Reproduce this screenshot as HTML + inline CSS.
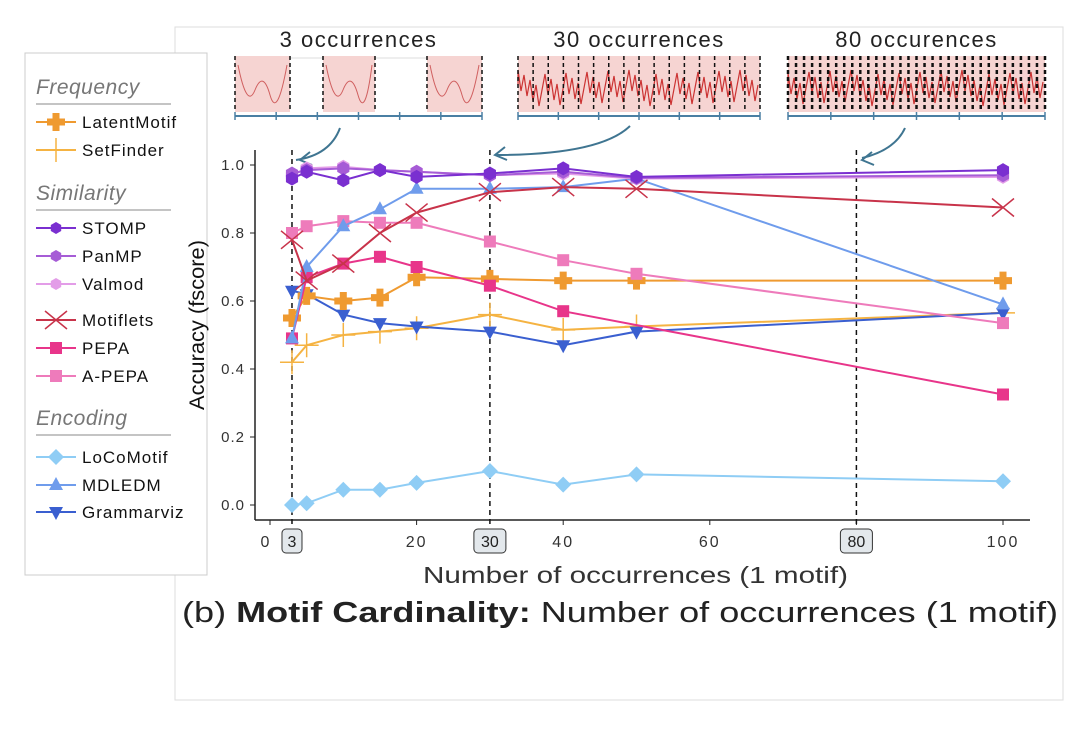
<!DOCTYPE html>
<html><head><meta charset="utf-8"><style>
body{margin:0;background:#fff;width:1084px;height:746px;overflow:hidden;font-family:"Liberation Sans",sans-serif}
svg{position:absolute;left:0;top:0}
</style></head><body>
<svg id="chart" width="1084" height="746">
<rect x="175" y="27" width="888" height="673" fill="none" stroke="#ddd"/>
<rect x="25" y="53" width="182" height="522" fill="#fff" stroke="#ccc"/>
<g id="insets"></g>
<g id="plot"></g>
<g id="legend"></g>
<text x="204" y="325" transform="rotate(-90 204 325)" font-size="21" fill="#111" text-anchor="middle" textLength="170" lengthAdjust="spacingAndGlyphs">Accuracy (fscore)</text>
<text x="423" y="583" font-size="23" fill="#333" textLength="425" lengthAdjust="spacingAndGlyphs">Number of occurrences (1 motif)</text>
<text x="182" y="622" font-size="29" fill="#222" textLength="876" lengthAdjust="spacingAndGlyphs">(b) <tspan font-weight="bold">Motif Cardinality:</tspan> Number of occurrences (1 motif)</text>
</svg>
<script>
const xs=[3,5,10,15,20,30,40,50,100];
const stomp=[0.96,0.98,0.955,0.985,0.965,0.975,0.99,0.965,0.985];
const panmp=[0.975,0.985,0.99,0.985,0.98,0.97,0.98,0.962,0.97];
const valmod=[0.97,0.99,0.995,0.985,0.98,0.97,0.975,0.96,0.965];
const motiflets=[0.78,0.66,0.71,0.80,0.86,0.92,0.935,0.93,0.875];
const pepaX=[3,5,10,15,20,30,40,100];
const pepa=[0.49,0.67,0.71,0.73,0.70,0.645,0.57,0.325];
const apepa=[0.80,0.82,0.835,0.83,0.83,0.775,0.72,0.68,0.535];
const latent=[0.55,0.615,0.60,0.61,0.67,0.665,0.66,0.66,0.66];
const setfinder=[0.42,0.47,0.50,0.51,0.52,0.56,0.515,0.525,0.565];
const loco=[0.0,0.005,0.045,0.045,0.065,0.10,0.06,0.09,0.07];
const mdledm=[0.49,0.70,0.82,0.87,0.93,0.93,0.935,0.96,0.59];
const grammar=[0.63,0.62,0.56,0.535,0.525,0.51,0.47,0.51,0.565];
const xTicks=[0,20,40,60,80,100];
const yTicks=[0,0.2,0.4,0.6,0.8,1.0];
const markers=[3,30,80];

const NS="http://www.w3.org/2000/svg";
const X=v=>270+v*7.33, Y=v=>505-v*340;
function el(t,a,p){const e=document.createElementNS(NS,t);for(const k in a)e.setAttribute(k,a[k]);p.appendChild(e);return e;}
const plot=document.getElementById('plot');
const ax=el('line',{x1:255,y1:150,x2:255,y2:520,stroke:'#222','stroke-width':1.5},plot);


const bx=el('line',{x1:255,y1:520,x2:1030,y2:520,stroke:'#222','stroke-width':1.5},plot);


yTicks.forEach(v=>{
 el('line',{x1:250,x2:255,y1:Y(v),y2:Y(v),stroke:'#222'},plot);
 const t=el('text',{x:245,y:Y(v)+5,'font-size':15,fill:'#333','text-anchor':'end','letter-spacing':'1'},plot);
 t.textContent=v.toFixed(1);
 
 
});
xTicks.forEach(v=>{
 el('line',{x1:X(v),x2:X(v),y1:520,y2:525,stroke:'#222'},plot);
 if(v===80)return;
 const t=el('text',{x:X(v)+(v===0?-4:0),y:547,'font-size':16,fill:'#333','text-anchor':'middle','letter-spacing':'2'},plot);
 t.textContent=v;
 
 
});
markers.forEach(v=>{
 const l=el('line',{x1:X(v),x2:X(v),y1:150,y2:525,stroke:'#111','stroke-width':1.5,'stroke-dasharray':'5,4'},plot);
 
 
 const w=v<10?20:32;
 el('rect',{x:X(v)-w/2,y:529,width:w,height:24,rx:4,fill:'#e3e8ec',stroke:'#333'},plot);
 const t=el('text',{x:X(v),y:547,'font-size':16,fill:'#222','text-anchor':'middle'},plot);
 t.textContent=v;
 
 
});
function marker(type,x,y,c,g,s){
 s=s||7;
 if(type==='hex'){let p=[];for(let i=0;i<6;i++){const a=Math.PI/3*i+Math.PI/6;p.push((x+s*Math.cos(a))+','+(y+s*Math.sin(a)));}el('polygon',{points:p.join(' '),fill:c},g);}
 else if(type==='sq')el('rect',{x:x-6,y:y-6,width:12,height:12,fill:c},g);
 else if(type==='x'){el('path',{d:`M${x-11} ${y-9}L${x+11} ${y+9}M${x-11} ${y+9}L${x+11} ${y-9}`,stroke:c,'stroke-width':1.5,fill:'none'},g);}
 else if(type==='plus'){el('path',{d:`M${x-9} ${y}H${x+9}M${x} ${y-9}V${y+9}`,stroke:c,'stroke-width':7,fill:'none'},g);}
 else if(type==='thin'){el('path',{d:`M${x-12} ${y}H${x+12}M${x} ${y-12}V${y+12}`,stroke:c,'stroke-width':1.5,fill:'none'},g);}
 else if(type==='dia')el('polygon',{points:`${x},${y-8} ${x+8},${y} ${x},${y+8} ${x-8},${y}`,fill:c},g);
 else if(type==='tri')el('polygon',{points:`${x},${y-8} ${x+7},${y+5} ${x-7},${y+5}`,fill:c},g);
 else if(type==='tdn')el('polygon',{points:`${x},${y+8} ${x+7},${y-5} ${x-7},${y-5}`,fill:c},g);
}
const series=[
 ['locomotif',xs,loco,'#8fcdf5','dia'],
 ['setfinder',xs,setfinder,'#f5b342','thin'],
 ['grammarviz',xs,grammar,'#3a5fd0','tdn'],
 ['latentmotif',xs,latent,'#ef9a30','plus'],
 ['pepa',pepaX,pepa,'#e8358a','sq'],
 ['a-pepa',xs,apepa,'#ee7bbb','sq'],
 ['mdledm',xs,mdledm,'#6f9cec','tri'],
 ['motiflets',xs,motiflets,'#c8334a','x'],
 ['valmod',xs,valmod,'#e39de8','hex'],
 ['panmp',xs,panmp,'#a65cd6','hex'],
 ['stomp',xs,stomp,'#7a2fd0','hex']
];
series.forEach(([n,xx,yy,c,m])=>{
 const g=el('g',{},plot);
 
 
 el('polyline',{points:xx.map((x,i)=>X(x)+','+Y(yy[i])).join(' '),fill:'none',stroke:c,'stroke-width':2},g);
 xx.forEach((x,i)=>marker(m,X(x),Y(yy[i]),c,g));
});
const lg=document.getElementById('legend');
const items=[['h','Frequency',94],['i','LatentMotif',122,'#ef9a30','plus'],['i','SetFinder',150,'#f5b342','thin'],
['h','Similarity',200],['i','STOMP',228,'#7a2fd0','hex'],['i','PanMP',256,'#a65cd6','hex'],['i','Valmod',284,'#e39de8','hex'],
['i','Motiflets',320,'#c8334a','x'],['i','PEPA',348,'#e8358a','sq'],['i','A-PEPA',376,'#ee7bbb','sq'],
['h','Encoding',425],['i','LoCoMotif',457,'#8fcdf5','dia'],['i','MDLEDM',485,'#6f9cec','tri'],['i','Grammarviz',512,'#3a5fd0','tdn']];
items.forEach(it=>{
 if(it[0]==='h'){
  const t=el('text',{x:36,y:it[2],'font-size':21,'font-style':'italic',fill:'#777','letter-spacing':'0.5'},lg);t.textContent=it[1];
  
  
  el('line',{x1:36,x2:171,y1:it[2]+10,y2:it[2]+10,stroke:'#888'},lg);
 }else{
  const g=el('g',{},lg);
  
  
  el('line',{x1:36,x2:76,y1:it[2],y2:it[2],stroke:it[3],'stroke-width':2},g);
  marker(it[4],56,it[2],it[3],g,6);
  const t=el('text',{x:82,y:it[2]+6,'font-size':17,fill:'#111','letter-spacing':'1'},g);t.textContent=it[1];
 }
});
const ins=document.getElementById('insets');
const panels=[[235,482,'3 occurrences',3],[518,760,'30 occurrences',30],[788,1045,'80 occurences',80]];
panels.forEach(([a,b,title,n])=>{
 const g=el('g',{},ins);
 
 
 const t=el('text',{x:(a+b)/2,y:47,'font-size':22,fill:'#222','text-anchor':'middle','letter-spacing':'1.5'},g);t.textContent=title;
 el('line',{x1:a,x2:b,y1:58,y2:58,stroke:'#ddd'},g);
 if(n===3){
  [[235,290],[323,375],[427,482]].forEach(([p,q])=>{
   el('rect',{x:p,y:56,width:q-p,height:56,fill:'#f6d4d2'},g);
   el('path',{d:`M${p+3} 65 Q${p+12} 110 ${p+20} 90 T${p+35} 95 T${q-3} 65`,stroke:'#d06060',fill:'none'},g);
   [p,q].forEach(x=>el('line',{x1:x,x2:x,y1:56,y2:112,stroke:'#111','stroke-dasharray':'4,3','stroke-width':1.5},g));
  });
 }else{
  const cnt=n===30?16:32;
  el('rect',{x:a,y:56,width:b-a,height:56,fill:'#f6d4d2'},g);
  let d='M'+a+' 85';for(let x=a;x<=b;x+=3)d+=' L'+x+' '+(70+((x*7)%37));
  el('path',{d:d,stroke:'#cc3333',fill:'none','stroke-width':1.2},g);
  for(let i=0;i<=cnt;i++){const x=a+(b-a)*i/cnt;el('line',{x1:x,x2:x,y1:56,y2:112,stroke:'#111','stroke-dasharray':'4,3','stroke-width':n===80?2.5:1.5},g);}
 }
 el('line',{x1:a,x2:b,y1:116,y2:116,stroke:'#4a7fa3','stroke-width':2},g);
 for(let i=0;i<=6;i++){const x=a+(b-a)*i/6;el('line',{x1:x,x2:x,y1:112,y2:120,stroke:'#4a7fa3','stroke-width':1.5},g);}
});
[[340,128,300,160,'M340 128 Q330 155 296 160'],[630,128,495,155,'M630 126 Q600 155 495 155'],[905,128,862,160,'M905 128 Q895 150 862 158']].forEach(r=>{
 const p=el('path',{d:r[4],stroke:'#3f7591',fill:'none','stroke-width':2},ins);
 
 
 el('path',{d:`M${r[2]+10} ${r[3]-8} L${r[2]} ${r[3]} L${r[2]+12} ${r[3]+5}`,stroke:'#3f7591',fill:'none','stroke-width':2},ins);
});
</script>
</body></html>
